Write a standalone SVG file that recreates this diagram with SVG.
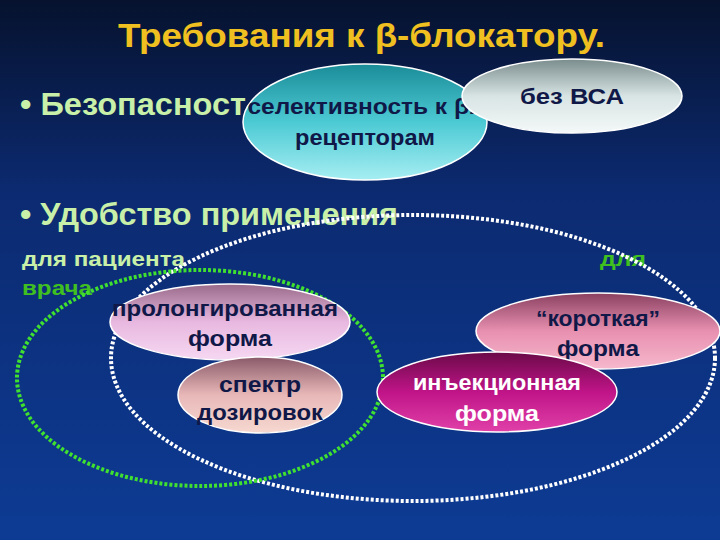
<svg xmlns="http://www.w3.org/2000/svg" width="720" height="540" viewBox="0 0 720 540">
<defs>
<linearGradient id="bg" x1="0" y1="0" x2="0" y2="1"><stop offset="0" stop-color="#06122e"/><stop offset="0.35" stop-color="#0c2a70"/><stop offset="1" stop-color="#0d3b94"/></linearGradient>
<linearGradient id="cy" x1="0" y1="0" x2="0" y2="1"><stop offset="0" stop-color="#1a8c98"/><stop offset="0.5" stop-color="#4ccad4"/><stop offset="1" stop-color="#a6eef2"/></linearGradient>
<linearGradient id="gr" x1="0" y1="0" x2="0" y2="1"><stop offset="0" stop-color="#7a8c8c"/><stop offset="0.5" stop-color="#d8e4e4"/><stop offset="1" stop-color="#f4f8f8"/></linearGradient>
<linearGradient id="pk" x1="0" y1="0" x2="0" y2="1"><stop offset="0" stop-color="#9a6a8a"/><stop offset="0.5" stop-color="#e8b8e0"/><stop offset="1" stop-color="#f6d8f2"/></linearGradient>
<linearGradient id="pe" x1="0" y1="0" x2="0" y2="1"><stop offset="0" stop-color="#8a5a6a"/><stop offset="0.5" stop-color="#e8b8b8"/><stop offset="1" stop-color="#f6d8d0"/></linearGradient>
<linearGradient id="rs" x1="0" y1="0" x2="0" y2="1"><stop offset="0" stop-color="#8a4060"/><stop offset="0.5" stop-color="#e890b0"/><stop offset="1" stop-color="#f6b8cc"/></linearGradient>
<linearGradient id="mg" x1="0" y1="0" x2="0" y2="1"><stop offset="0" stop-color="#6a0a48"/><stop offset="0.5" stop-color="#c01488"/><stop offset="1" stop-color="#e040a8"/></linearGradient>
</defs>
<style>
text{font-family:"Liberation Sans",Arial,sans-serif;font-weight:bold}
.nt{font-size:22px;fill:#101848;text-anchor:middle}
.el{stroke:#ffffff;stroke-width:1.5}
.hd{font-size:31px;fill:#c8f0a8}
.sm{font-size:20px}
</style>
<rect width="720" height="540" fill="url(#bg)"/>
<text x="118" y="47" font-size="34" fill="#f0c020" textLength="487" lengthAdjust="spacingAndGlyphs">Требования к β-блокатору.</text>
<text x="20" y="115" class="hd" textLength="226" lengthAdjust="spacingAndGlyphs">• Безопасност</text>
<text x="20" y="225" class="hd" textLength="378" lengthAdjust="spacingAndGlyphs">• Удобство применения</text>
<text x="22" y="266" class="sm" fill="#c8f0a8" textLength="163" lengthAdjust="spacingAndGlyphs">для пациента</text>
<text x="22" y="295" class="sm" fill="#40c020" textLength="70" lengthAdjust="spacingAndGlyphs">врача</text>
<text x="600" y="266" class="sm" fill="#40c020" textLength="46" lengthAdjust="spacingAndGlyphs">для</text>
<g id="connectors" fill="none" stroke-dasharray="3 2" stroke-width="4">
<ellipse cx="413" cy="358" rx="302" ry="143" stroke="#ffffff"/>
<ellipse cx="200" cy="378" rx="183" ry="108" stroke="#40e030"/>
</g>
<g id="n-sel"><ellipse class="el" cx="365" cy="122" rx="122" ry="58" fill="url(#cy)"/>
<text class="nt" x="365" y="114" textLength="235" lengthAdjust="spacingAndGlyphs">селективность к β1</text><text class="nt" x="365" y="145" textLength="140" lengthAdjust="spacingAndGlyphs">рецепторам</text></g>
<g id="n-bca"><ellipse class="el" cx="572" cy="96" rx="110" ry="37" fill="url(#gr)"/>
<text class="nt" x="572" y="104" textLength="104" lengthAdjust="spacingAndGlyphs">без ВСА</text></g>
<g id="n-prol"><ellipse class="el" cx="230" cy="322" rx="120" ry="38" fill="url(#pk)"/>
<text class="nt" x="225" y="316" textLength="226" lengthAdjust="spacingAndGlyphs">пролонгированная</text><text class="nt" x="230" y="346" textLength="84" lengthAdjust="spacingAndGlyphs">форма</text></g>
<g id="n-dose"><ellipse class="el" cx="260" cy="395" rx="82" ry="38" fill="url(#pe)"/>
<text class="nt" x="260" y="392" textLength="82" lengthAdjust="spacingAndGlyphs">спектр</text><text class="nt" x="260" y="420" textLength="126" lengthAdjust="spacingAndGlyphs">дозировок</text></g>
<g id="n-short"><ellipse class="el" cx="598" cy="331" rx="122" ry="38" fill="url(#rs)"/>
<text class="nt" x="598" y="326" textLength="124" lengthAdjust="spacingAndGlyphs">“короткая”</text><text class="nt" x="598" y="356" textLength="82" lengthAdjust="spacingAndGlyphs">форма</text></g>
<g id="n-inj"><ellipse class="el" cx="497" cy="392" rx="120" ry="40" fill="url(#mg)"/>
<text class="nt" x="497" y="390" style="fill:#ffffff" textLength="168" lengthAdjust="spacingAndGlyphs">инъекционная</text><text class="nt" x="497" y="421" style="fill:#ffffff" textLength="84" lengthAdjust="spacingAndGlyphs">форма</text></g>
</svg>
